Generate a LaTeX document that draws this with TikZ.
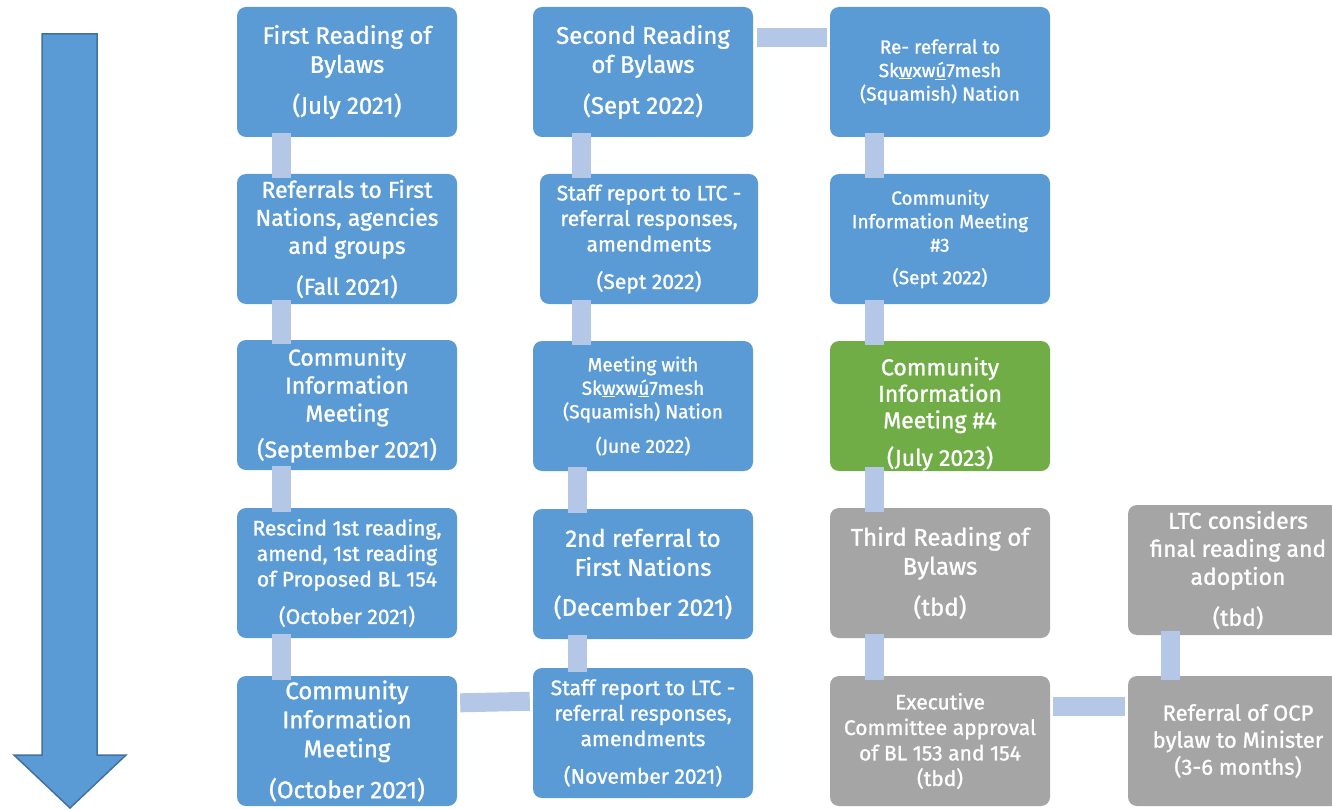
\documentclass[tikz,border=0pt]{standalone}
\usepackage{fontspec}
\setmainfont{Fira Sans}[FakeBold=1.2,UprightFeatures={FakeBold=1.2}]
\definecolor{bxblue}{HTML}{5B9BD5}
\definecolor{bxgreen}{HTML}{70AD47}
\definecolor{bxgray}{HTML}{A5A5A5}
\definecolor{cnblue}{HTML}{B4C7E7}
\definecolor{arrowedge}{HTML}{41719C}
\newcommand{\skw}{Sk\underline{w}xw\underline{ú}7mesh}
\begin{document}
\begin{tikzpicture}[x=1pt,y=-1pt,
  box/.style={rounded corners=9pt, minimum width=220pt, minimum height=130pt, text=white, align=center, inner sep=0pt, fill=bxblue},
  conn/.style={draw=cnblue, line width=19pt},
  f25/.style={font=\fontsize{24}{29}\selectfont},
  f24/.style={font=\fontsize{23}{28}\selectfont},
  f23/.style={font=\fontsize{22}{27}\selectfont},
  f22/.style={font=\fontsize{21}{25.5}\selectfont},
  f20/.style={font=\fontsize{19}{23.5}\selectfont}]
\useasboundingbox (0,0) rectangle (1332,810);
% big arrow
\filldraw[fill=bxblue, draw=arrowedge, line width=1.5pt]
  (42,34) -- (97,34) -- (97,755) -- (126,755) -- (70,808) -- (14,755) -- (42,755) -- cycle;
% column A
\node[box,f25] (a1) at (347,72) {First Reading of\\Bylaws\\[12pt](July 2021)};
\node[box,f24] (a2) at (347,239) {Referrals to First\\Nations, agencies\\and groups\\[13pt](Fall 2021)};
\node[box,f24] (a3) at (347,405) {Community\\Information\\Meeting\\[8pt](September 2021)};
\node[box,f22] (a4) at (347,573) {Rescind 1st reading,\\amend, 1st reading\\of Proposed BL 154\\[12pt](October 2021)};
\node[box,f25] (a5) at (347,741) {Community\\Information\\Meeting\\[12pt](October 2021)};
% column B
\node[box,f25] (b1) at (643,72) {Second Reading\\of Bylaws\\[12pt](Sept 2022)};
\node[box,f22,minimum width=218pt] (b2) at (649,239) {Staff report to LTC -\\referral responses,\\amendments\\[12pt](Sept 2022)};
\node[box,f20] (b3) at (643,406) {Meeting with\\\skw\\(Squamish) Nation\\[11pt](June 2022)};
\node[box,f25] (b4) at (643,574) {2nd referral to\\First Nations\\[11pt](December 2021)};
\node[box,f22] (b5) at (643,733) {Staff report to LTC -\\referral responses,\\amendments\\[12pt](November 2021)};
% column C
\node[box,f20] (c1) at (940,72) {Re- referral to\\\skw\\(Squamish) Nation};
\node[box,f20] (c2) at (940,239) {Community\\Information Meeting\\\#3\\[9pt](Sept 2022)};
\node[box,fill=bxgreen,label={[yshift=-8pt,text=white,align=center,font=\fontsize{23}{26.5}\selectfont]center:Community\\Information\\Meeting \#4\\[11pt](July 2023)}] (c3) at (940,406) {};
\node[box,f25,fill=bxgray] (c4) at (940,573) {Third Reading of\\Bylaws\\[12pt](tbd)};
\node[box,f22,fill=bxgray] (c5) at (940,741) {Executive\\Committee approval\\of BL 153 and 154\\(tbd)};
% column D
\node[box,f24,fill=bxgray] (d4) at (1238,570) {LTC considers\\final reading and\\adoption\\[13pt](tbd)};
\node[box,f23,fill=bxgray] (d5) at (1238,741) {Referral of OCP\\bylaw to Minister\\(3-6 months)};
% vertical connectors
\foreach \u/\v in {a1/a2,a2/a3,a3/a4,a4/a5}
  \draw[conn] ([xshift=-66pt,yshift=4pt]\u.south) -- ([xshift=-66pt,yshift=-4pt]\v.north);
\draw[conn] ([xshift=-62pt,yshift=4pt]b1.south) -- ([xshift=-68pt,yshift=-4pt]b2.north);
\draw[conn] ([xshift=-68pt,yshift=4pt]b2.south) -- ([xshift=-62pt,yshift=-4pt]b3.north);
\draw[conn] ([xshift=-66pt,yshift=4pt]b3.south) -- ([xshift=-66pt,yshift=-4pt]b4.north);
\draw[conn] ([xshift=-66pt,yshift=4pt]b4.south) -- ([xshift=-66pt,yshift=-4pt]b5.north);
\foreach \u/\v in {c1/c2,c2/c3,c3/c4,c4/c5}
  \draw[conn] ([xshift=-66pt,yshift=4pt]\u.south) -- ([xshift=-66pt,yshift=-4pt]\v.north);
\draw[conn] ([xshift=-68pt,yshift=-4pt]d5.north) -- ([xshift=-68pt,yshift=4pt]d4.south);
% horizontal connectors
\draw[conn] ([xshift=4pt,yshift=-31pt]b1.north east) -- ([xshift=-3pt,yshift=-31pt]c1.north west);
\draw[conn] ([xshift=3pt,yshift=-27pt]a5.north east) -- ([xshift=-3pt,yshift=-33.5pt]b5.north west);
\draw[conn] ([xshift=3pt,yshift=-31pt]c5.north east) -- ([xshift=-3pt,yshift=-31pt]d5.north west);
\end{tikzpicture}
\end{document}
